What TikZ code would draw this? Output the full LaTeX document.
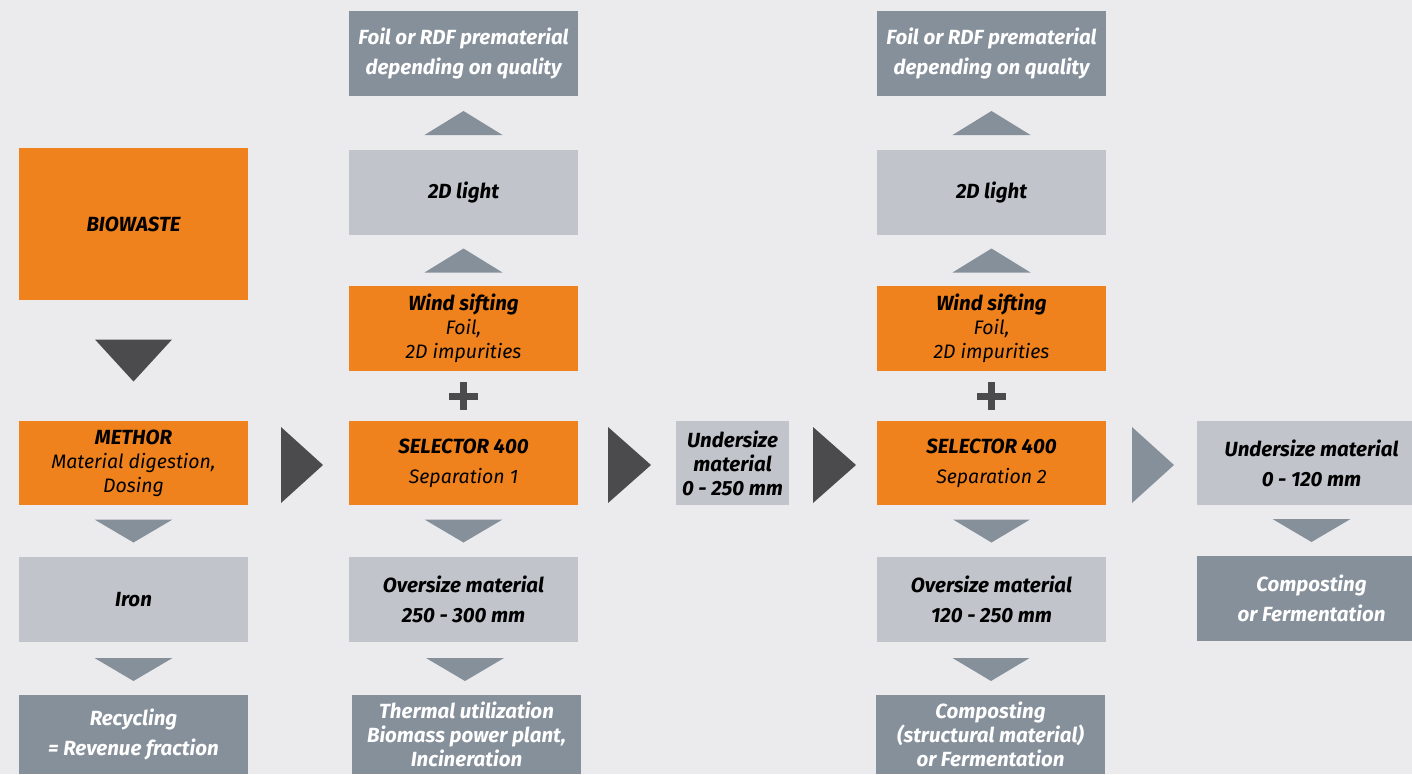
\documentclass[tikz,border=0pt]{standalone}
\usepackage{fontspec}
\setmainfont{Fira Sans}
\usetikzlibrary{calc}
\definecolor{bgc}{HTML}{EBEBED}
\definecolor{orangec}{HTML}{F0821E}
\definecolor{lightc}{HTML}{C1C4CB}
\definecolor{darkc}{HTML}{86909B}
\definecolor{arrowc}{HTML}{4B4B4D}
\newcommand{\tridown}[4]{\fill[#4] ($(#1)+(-#2,-#3)$) -- ($(#1)+(#2,-#3)$) -- ($(#1)+(0,#3)$) -- cycle;}
\newcommand{\triup}[4]{\fill[#4] ($(#1)+(-#2,#3)$) -- ($(#1)+(#2,#3)$) -- ($(#1)+(0,-#3)$) -- cycle;}
\newcommand{\triright}[4]{\fill[#4] ($(#1)+(-#3,-#2)$) -- ($(#1)+(-#3,#2)$) -- ($(#1)+(#3,0)$) -- cycle;}
\newcommand{\plussign}[1]{\fill[arrowc] ($(#1)+(-14.5,-3.5)$) rectangle ($(#1)+(14.5,3.5)$);
  \fill[arrowc] ($(#1)+(-3.5,-14)$) rectangle ($(#1)+(3.5,14)$);}
\newcommand{\lt}[1]{{\fontsize{19.5}{24}\selectfont #1}}
\tikzset{
  box/.style={rectangle, inner sep=0pt, minimum width=229pt, minimum height=85pt, align=center,
    font=\itshape\fontsize{20.5}{30}\selectfont},
  tight/.style={font=\itshape\fontsize{20.5}{24}\selectfont},
  obox/.style={box, fill=orangec, text=black},
  lbox/.style={box, fill=lightc, text=black},
  dbox/.style={box, fill=darkc, text=white},
}
\begin{document}
\begin{tikzpicture}[x=1pt,y=-1pt]
\useasboundingbox (0,0) rectangle (1412,774);
\fill[bgc] (0,0) rectangle (1412,774);
\begin{scope}
\clip (0,0) rectangle (1412,774);
% column 1
\node[obox, minimum height=152pt] (bio) at (133.5,224) {\bfseries BIOWASTE};
\node[obox, minimum height=84pt, tight] (methor) at (133.5,463) {{\bfseries METHOR}\\\lt{Material digestion,}\\\lt{Dosing}};
\node[lbox] (iron) at (133.5,599.5) {\bfseries Iron};
\node[dbox, minimum height=79pt] (recyc) at (133.5,734.5) {\bfseries Recycling\\\bfseries = Revenue fraction};
% column 2
\node[dbox] (foila) at (463.5,53.5) {\bfseries Foil or RDF prematerial\\\bfseries depending on quality};
\node[lbox] (lighta) at (463.5,192.5) {\bfseries 2D light};
\node[obox, tight] (winda) at (463.5,328.5) {{\bfseries Wind sifting}\\\lt{Foil,}\\\lt{2D impurities}};
\node[obox, minimum height=84pt] (sela) at (463.5,463) {{\bfseries SELECTOR 400}\\\lt{Separation 1}};
\node[lbox] (overa) at (463.5,599.5) {\bfseries Oversize material\\\bfseries 250 - 300 mm};
\node[dbox, minimum height=79pt, tight] (therm) at (466.5,734.5) {\bfseries Thermal utilization\\\bfseries Biomass power plant,\\\bfseries Incineration};
% middle
\node[lbox, minimum width=113pt, minimum height=84pt, tight] (undera) at (732.5,463) {\bfseries Undersize\\\bfseries material\\\bfseries 0 - 250 mm};
% column 4
\node[dbox] (foilb) at (991.5,53.5) {\bfseries Foil or RDF prematerial\\\bfseries depending on quality};
\node[lbox] (lightb) at (991.5,192.5) {\bfseries 2D light};
\node[obox, tight] (windb) at (991.5,328.5) {{\bfseries Wind sifting}\\\lt{Foil,}\\\lt{2D impurities}};
\node[obox, minimum height=84pt] (selb) at (991.5,463) {{\bfseries SELECTOR 400}\\\lt{Separation 2}};
\node[lbox] (overb) at (991.5,599.5) {\bfseries Oversize material\\\bfseries 120 - 250 mm};
\node[dbox, minimum height=79pt, tight] (compa) at (990.5,734.5) {\bfseries Composting\\\bfseries (structural material)\\\bfseries or Fermentation};
% column 5
\node[lbox, minimum height=84pt] (underb) at (1311.5,463) {\bfseries Undersize material\\\bfseries 0 - 120 mm};
\node[dbox, minimum height=85pt] (compb) at (1311.5,598.5) {\bfseries Composting\\\bfseries or Fermentation};
\end{scope}
% connectors (triangles)
\coordinate (c1) at ($(bio.south)!0.5!(methor.north)$);
\tridown{c1}{38.5}{21}{arrowc}
\coordinate (c2) at ($(methor.south)!0.5!(iron.north)$);
\tridown{c2}{39}{11.5}{darkc}
\coordinate (c3) at ($(iron.south)!0.5!(recyc.north)+(0,1)$);
\tridown{c3}{39}{11.5}{darkc}
\coordinate (c4) at ($(sela.south)!0.5!(overa.north)$);
\tridown{c4}{39}{11.5}{darkc}
\coordinate (c5) at ($(overa.south)!0.5!(therm.north)+(0,1)$);
\tridown{c5}{39}{11.5}{darkc}
\coordinate (c6) at ($(selb.south)!0.5!(overb.north)$);
\tridown{c6}{38.5}{11.5}{darkc}
\coordinate (c7) at ($(overb.south)!0.5!(compa.north)+(0,1)$);
\tridown{c7}{38.5}{11.5}{darkc}
\coordinate (c8) at ($(underb.south)!0.5!(compb.north)$);
\tridown{c8}{39}{11.5}{darkc}
\coordinate (u1) at ($(winda.north)!0.5!(lighta.south)$);
\triup{u1}{39}{12}{darkc}
\coordinate (u2) at ($(lighta.north)!0.5!(foila.south)$);
\triup{u2}{39}{12}{darkc}
\coordinate (u3) at ($(windb.north)!0.5!(lightb.south)$);
\triup{u3}{39}{12}{darkc}
\coordinate (u4) at ($(lightb.north)!0.5!(foilb.south)$);
\triup{u4}{39}{12}{darkc}
\coordinate (r1) at ($(methor.east)!0.5!(sela.west)+(3.5,2)$);
\triright{r1}{38}{21}{arrowc}
\coordinate (r2) at ($(sela.east)!0.5!(undera.west)+(2.5,2)$);
\triright{r2}{38}{21.5}{arrowc}
\coordinate (r3) at ($(undera.east)!0.5!(selb.west)+(1.5,2)$);
\triright{r3}{38}{21.5}{arrowc}
\coordinate (r4) at ($(selb.east)!0.5!(underb.west)+(1.5,2)$);
\triright{r4}{38}{21}{darkc}
\coordinate (p1) at ($(winda.south)!0.5!(sela.north)$);
\plussign{p1}
\coordinate (p2) at ($(windb.south)!0.5!(selb.north)$);
\plussign{p2}
\end{tikzpicture}
\end{document}
